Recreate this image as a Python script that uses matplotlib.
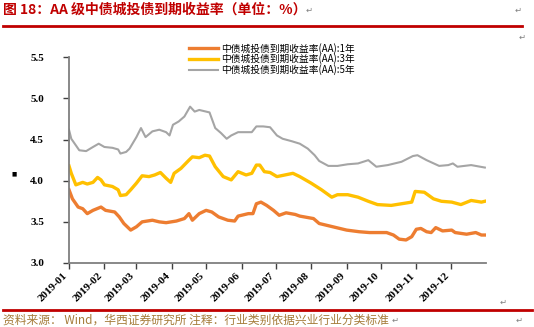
import matplotlib
matplotlib.use("Agg")
import matplotlib.pyplot as plt
import matplotlib.dates as mdates
import pandas as pd
from matplotlib.lines import Line2D

# ---- data ----
labels = ["中债城投债到期收益率(AA):1年",
          "中债城投债到期收益率(AA):3年",
          "中债城投债到期收益率(AA):5年"]

d1 = ["01-01","01-04","01-09","01-13","01-17","01-22","01-29","02-02","02-10","02-14",
      "02-18","02-24","03-01","03-06","03-15","03-21","03-27","04-05","04-12","04-16",
      "04-19","04-25","05-01","05-06","05-12","05-20","05-26","05-29","06-07","06-11",
      "06-14","06-18","06-23","06-29","07-04","07-10","07-18","07-22","08-03","08-08",
      "08-20","09-01","09-12","09-21","10-06","10-12","10-17","10-23","10-28","11-01",
      "11-05","11-10","11-14","11-18","11-24","12-02","12-05","12-15","12-23","12-28","12-31"]
y1 = [3.89,3.78,3.68,3.66,3.60,3.64,3.68,3.64,3.62,3.56,
      3.48,3.40,3.44,3.50,3.52,3.50,3.49,3.51,3.54,3.60,
      3.52,3.60,3.64,3.62,3.56,3.52,3.51,3.57,3.60,3.60,
      3.72,3.74,3.70,3.64,3.58,3.61,3.59,3.57,3.54,3.48,
      3.44,3.40,3.38,3.37,3.37,3.34,3.29,3.28,3.32,3.41,
      3.42,3.38,3.37,3.43,3.39,3.40,3.37,3.35,3.37,3.34,3.34]

d3 = ["01-01","01-03","01-07","01-13","01-17","01-22","01-26","01-29","02-01","02-08",
      "02-13","02-15","02-20","02-24","03-01","03-06","03-12","03-17","03-22","03-27",
      "03-31","04-03","04-09","04-16","04-19","04-25","04-30","05-04","05-09","05-16",
      "05-23","05-29","06-05","06-10","06-14","06-17","06-21","06-26","07-02","07-09",
      "07-16","07-22","08-01","08-10","08-19","08-24","09-02","09-11","09-20","09-28",
      "10-10","10-19","10-28","10-31","11-08","11-16","11-23","12-02","12-10","12-19",
      "12-28","12-31"]
y3 = [4.18,4.09,3.95,3.98,3.96,3.98,4.04,4.01,3.95,3.93,
      3.89,3.82,3.83,3.89,3.97,4.06,4.05,4.07,4.10,4.03,
      3.98,4.09,4.15,4.25,4.29,4.28,4.31,4.30,4.17,4.05,
      4.01,4.11,4.07,4.09,4.19,4.19,4.11,4.10,4.05,4.07,
      4.09,4.05,3.97,3.89,3.80,3.83,3.83,3.80,3.75,3.71,
      3.70,3.72,3.74,3.87,3.86,3.78,3.75,3.74,3.71,3.76,
      3.74,3.75]

d5 = ["01-01","01-03","01-07","01-10","01-16","01-22","01-27","02-01","02-08","02-13",
      "02-15","02-20","02-23","03-01","03-05","03-09","03-15","03-21","03-27","03-30",
      "04-02","04-07","04-12","04-17","04-21","04-25","05-04","05-09","05-14","05-19",
      "05-23","05-29","06-10","06-14","06-20","06-26","07-02","07-07","07-15","07-22",
      "07-29","08-04","08-08","08-16","08-24","09-02","09-11","09-20","09-27","10-07",
      "10-19","10-29","11-02","11-10","11-21","11-29","12-03","12-07","12-19","12-31"]
y5 = [4.62,4.51,4.43,4.37,4.36,4.41,4.45,4.41,4.40,4.38,
      4.33,4.35,4.39,4.53,4.64,4.53,4.60,4.62,4.59,4.55,
      4.68,4.72,4.78,4.90,4.84,4.86,4.83,4.64,4.58,4.51,
      4.55,4.59,4.59,4.66,4.66,4.65,4.55,4.51,4.48,4.45,
      4.39,4.31,4.24,4.18,4.18,4.20,4.21,4.25,4.17,4.19,
      4.23,4.30,4.31,4.25,4.18,4.19,4.21,4.17,4.19,4.16]

yticks = [3.0, 3.5, 4.0, 4.5, 5.0, 5.5]
month_labels = ["2019-%02d" % m for m in range(1, 13)]

colors = ["#ED7D31", "#FFC000", "#A5A5A5"]
widths = [2.4, 2.4, 1.5]


def to_dates(lst):
    return pd.to_datetime(["2019-" + s for s in lst])


plt.rcParams['font.family'] = ['Noto Sans CJK SC', 'DejaVu Sans']

fig = plt.figure(figsize=(5.34, 3.27), dpi=100)
ax = fig.add_axes([69/534, 1-263/327, (486-69)/534, (263-57.3)/327])

for d, y, c, w, lab in zip([d1, d3, d5], [y1, y3, y5], colors, widths, labels):
    ax.plot(to_dates(d), y, color=c, lw=w, label=lab, solid_joinstyle='round')

ax.set_ylim(3.0, 5.5)
ax.set_yticks(yticks)
ax.set_yticklabels(["%.1f" % v for v in yticks], family='Liberation Serif',
                   fontweight='bold', fontsize=8)
ax.set_xlim(pd.Timestamp("2019-01-01"), pd.Timestamp("2020-01-01"))
ticks = pd.to_datetime(["2019-%02d-01" % m for m in range(1, 13)])
ax.set_xticks(ticks)
ax.set_xticklabels(month_labels, rotation=45, ha='right', va='top',
                   rotation_mode='default', family='Liberation Serif',
                   fontweight='bold', fontsize=8)

for s in ['top', 'right']:
    ax.spines[s].set_visible(False)
for s in ['left', 'bottom']:
    ax.spines[s].set_color('#7f7f7f')
    ax.spines[s].set_linewidth(1.3)
ax.tick_params(axis='both', direction='out', length=4, width=1, color='#404040',
               labelcolor='black')
ax.tick_params(axis='y', pad=14)
ax.tick_params(axis='x', pad=2)

leg = ax.legend(loc='upper left', bbox_to_anchor=(115/417, 1.095), frameon=False,
                fontsize=7, handlelength=3.0, handletextpad=0.3,
                labelspacing=0.0, borderpad=0)

# title and decoration
fig.text(3/534, 1-10/327, "图 18：AA 级中债城投债到期收益率（单位：%）", color='#C00000',
         fontsize=10, fontweight='bold', va='center', ha='left')
fig.add_artist(Line2D([3/534, 522/534], [1-26/327, 1-26/327], color='#C00000', lw=2))
fig.add_artist(Line2D([3/534, 532/534], [1-309.5/327, 1-309.5/327], color='#C00000', lw=2))
fig.text(3/534, 1-320/327, "资料来源： Wind，华西证券研究所 注释：行业类别依据兴业行业分类标准",
         color='#A57C3A', fontsize=8.5, va='center', ha='left')
fig.text(12/534, 1-174/327, "■", fontsize=4, color='black', va='center', ha='left',
         family='DejaVu Sans')
for (px, py) in [(306, 10), (515, 10), (519, 37), (500, 302), (392, 320), (516, 320)]:
    fig.text(px/534, 1-py/327, "↵", fontsize=6, color='#808080', va='center',
             ha='left', family='DejaVu Sans')

fig.savefig("out.png", dpi=100)
